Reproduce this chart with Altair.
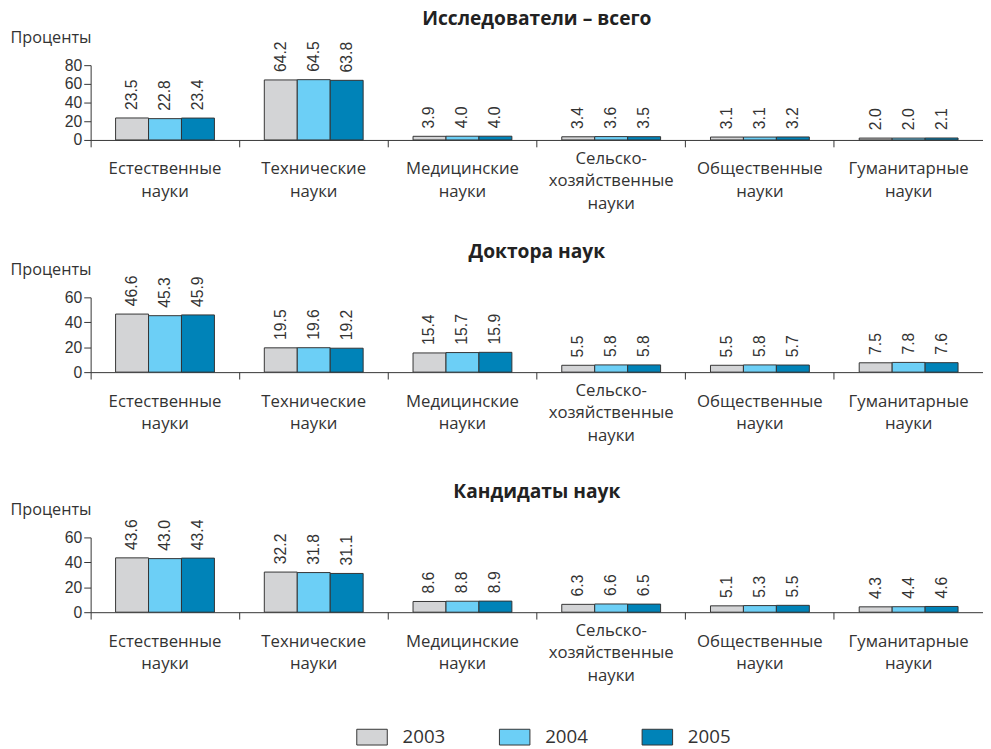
import altair as alt
import pandas as pd

categories = ["Естественные\nнауки", "Технические\nнауки", "Медицинские\nнауки",
              "Сельско-\nхозяйственные\nнауки", "Общественные\nнауки", "Гуманитарные\nнауки"]
years = ["2003", "2004", "2005"]

titles = ["Исследователи – всего", "Доктора наук", "Кандидаты наук"]

researchers_2003 = [23.5, 64.2, 3.9, 3.4, 3.1, 2.0]
researchers_2004 = [22.8, 64.5, 4.0, 3.6, 3.1, 2.0]
researchers_2005 = [23.4, 63.8, 4.0, 3.5, 3.2, 2.1]

doctors_2003 = [46.6, 19.5, 15.4, 5.5, 5.5, 7.5]
doctors_2004 = [45.3, 19.6, 15.7, 5.8, 5.8, 7.8]
doctors_2005 = [45.9, 19.2, 15.9, 5.8, 5.7, 7.6]

candidates_2003 = [43.6, 32.2, 8.6, 6.3, 5.1, 4.3]
candidates_2004 = [43.0, 31.8, 8.8, 6.6, 5.3, 4.4]
candidates_2005 = [43.4, 31.1, 8.9, 6.5, 5.5, 4.6]

y_ticks = [[0, 20, 40, 60, 80], [0, 20, 40, 60], [0, 20, 40, 60]]
y_domains = [[0, 80], [0, 60], [0, 60]]

colors = ["#d3d4d6", "#6ccff6", "#0083b8"]

TEXT_FONT = "Open Sans"
NUM_FONT = "Liberation Sans"
W = 907
H = 76
LINE_H = 23


def make_df(series):
    rows = []
    for y, vals in zip(years, series):
        for c, v in zip(categories, vals):
            rows.append({"cat": c, "year": y, "value": v})
    return pd.DataFrame(rows)


datasets = [
    [researchers_2003, researchers_2004, researchers_2005],
    [doctors_2003, doctors_2004, doctors_2005],
    [candidates_2003, candidates_2004, candidates_2005],
]

cat_df = pd.DataFrame({"cat": categories,
                       "lines": [c.count("\n") + 1 for c in categories]})

x_enc = alt.X("cat:N", sort=categories, title=None,
              scale=alt.Scale(paddingInner=0, paddingOuter=0),
              axis=alt.Axis(labels=False, bandPosition=0, tickSize=7,
                            domainColor="#333", tickColor="#333"))


def panel(i):
    df = make_df(datasets[i])
    y_enc = alt.Y("value:Q", title="Проценты",
                  scale=alt.Scale(domain=y_domains[i], nice=False),
                  axis=alt.Axis(values=y_ticks[i], grid=False, tickSize=7,
                                labelOverlap=False, labelFlush=False,
                                labelFont=NUM_FONT, labelFontSize=16,
                                labelColor="#333", labelPadding=2,
                                domainColor="#333", tickColor="#333",
                                titleAngle=0, titleAlign="left",
                                titleBaseline="middle", titleX=-82, titleY=-28,
                                titleFont=TEXT_FONT, titleFontSize=16.5,
                                titleFontWeight="normal", titleColor="#333"))
    base = alt.Chart(df).encode(
        x=x_enc,
        y=y_enc,
        xOffset=alt.XOffset("year:N", sort=years,
                            scale=alt.Scale(paddingInner=0, paddingOuter=0.757)),
    )
    bars = base.mark_bar(stroke="#333", strokeWidth=1).encode(
        color=alt.Color("year:N", sort=years,
                        scale=alt.Scale(domain=years, range=colors),
                        legend=alt.Legend(
                            title=None, orient="none", direction="horizontal",
                            legendX=270, legendY=667,
                            symbolType="M-1,-0.516L1,-0.516L1,0.516L-1,0.516Z",
                            symbolSize=961, symbolStrokeColor="#333",
                            symbolStrokeWidth=1, symbolOpacity=1,
                            labelFont=TEXT_FONT, labelFontSize=19,
                            labelColor="#333", labelOffset=15,
                            columnPadding=52)),
    )
    labels = base.mark_text(angle=270, align="left", baseline="middle", dx=8,
                            font=NUM_FONT, fontSize=16, color="#333").encode(
        text=alt.Text("value:Q", format=".1f"),
    )
    cat2 = alt.Chart(cat_df).transform_filter("datum.lines == 2").mark_text(
        baseline="top", align="center", lineBreak="\n", lineHeight=LINE_H,
        font=TEXT_FONT, fontSize=17, color="#333"
    ).encode(x=x_enc, y=alt.value(H + 22), text="cat:N")
    cat3 = alt.Chart(cat_df).transform_filter("datum.lines == 3").mark_text(
        baseline="top", align="center", lineBreak="\n", lineHeight=LINE_H,
        font=TEXT_FONT, fontSize=17, color="#333"
    ).encode(x=x_enc, y=alt.value(H + 11), text="cat:N")
    return alt.layer(bars, labels, cat2, cat3).properties(
        width=W, height=H,
        title=alt.TitleParams(titles[i], anchor="middle", font=TEXT_FONT,
                              fontSize=19.5, fontWeight="bold", color="#222",
                              offset=0),
    )


top = alt.vconcat(panel(0), panel(1), spacing=30)
chart = alt.vconcat(top, panel(2), spacing=38).properties(
    padding={"left": 2, "top": -5, "right": 0, "bottom": 0}
).configure_view(stroke=None)

chart.save("out.html", embed_options={"renderer": "svg", "actions": False})
